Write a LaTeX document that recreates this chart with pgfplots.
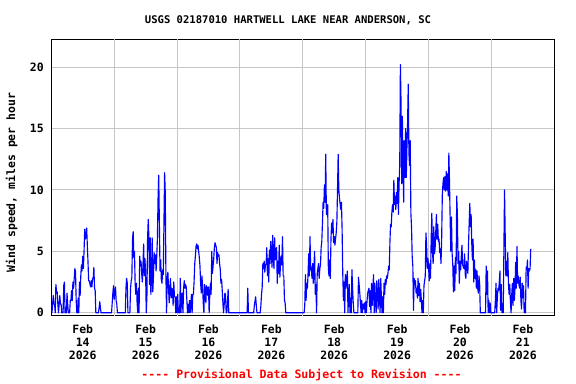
\documentclass[border=0pt]{standalone}
\usepackage{pgfplots}
\pgfplotsset{compat=1.18}
\usepackage{fontspec}
\setmainfont{DejaVu Sans Mono}
\pgfplotstableread{
x y
0 0.7
1 0
2 0.7
3 1.4
4 0.7
5 0.7
6 0
7 2.3
8 1.7
9 1.7
10 0.7
11 0
12 0.7
13 1.4
14 0.7
15 0.7
16 0
18 0
19 2.2
20 2.5
21 0
23 0
24 1.6
25 0.7
26 0
28 0
29 1.0
30 1.0
31 1.8
32 1.0
33 2.5
34 2.0
35 2.8
36 3.6
37 3.3
38 1.0
39 0
40 0
41 1.2
42 0
43 2.5
44 1.4
45 3.0
46 3.9
47 3.4
48 4.6
49 3.6
50 5.0
51 6.8
52 6.0
53 6.3
54 6.9
55 5.5
56 4.2
57 2.6
58 2.6
60 2.1
61 2.6
62 2.1
63 2.8
64 2.8
65 3.7
66 2.0
67 1.8
68 0
72 0
73 0.4
74 0.9
75 0.4
76 0
92 0
93 0.8
94 1.6
95 2.2
96 1.1
97 1.8
98 2.1
99 1.0
100 0.7
101 0
113 0
114 2.0
115 2.8
116 2.4
117 0
120 0
121 2.0
122 2.6
123 2.9
124 6.0
125 6.6
126 4.5
127 5.0
128 2.4
129 1.5
130 2.4
131 0.8
132 0
133 2.0
134 0
135 4.6
136 3.8
137 4.2
138 3.2
139 2.5
140 3.9
141 5.6
142 3.0
143 4.4
144 3.2
145 0
146 1.4
147 6.0
148 7.6
149 6.2
150 2.3
151 6.1
152 1.5
153 2.9
154 6.1
155 1.7
156 3.0
157 4.9
158 4.0
159 4.7
160 3.4
161 4.6
162 6.0
163 9.3
164 11.2
165 7.3
166 3.4
167 4.3
168 2.7
169 2.4
170 3.5
171 3.1
172 7.3
173 11.4
174 9.8
175 3.0
176 0
177 2.9
178 3.3
180 0.8
181 2.0
182 2.8
183 1.2
184 2.0
185 1.9
186 0.6
187 2.5
188 1.3
189 1.3
190 0
191 1.3
192 0
193 1.5
194 0
196 0
197 2.8
198 0
199 1.5
200 1.6
201 0
202 2.0
203 2.6
204 2.0
205 2.3
206 2.1
207 1.0
208 0
209 0.7
210 0
211 1.0
212 0
213 0.7
214 1.5
215 0
216 1.5
217 1.5
218 2.5
219 4.0
220 4.6
221 5.4
222 5.6
223 5.2
224 5.5
225 5.0
226 4.5
227 3.8
228 2.4
229 1.6
230 3.0
231 2.1
232 0.8
233 0
234 2.3
235 1.9
236 0.8
237 2.2
238 2.0
239 1.4
240 2.1
241 0
242 1.5
243 2.4
244 1.5
245 5.0
246 3.2
247 3.8
248 4.4
249 5.3
250 5.7
252 5.3
253 4.0
254 4.9
255 4.6
256 4.7
257 4.0
258 3.5
259 2.4
260 2.7
261 1.8
262 0.8
263 0
264 0.7
265 1.6
266 1.5
267 0
268 0
269 0.8
270 1.9
271 0
299 0
300 2.0
301 0
309 0
310 0.6
312 1.3
313 0.6
314 0
319 0
320 0.6
321 1.5
322 2.1
323 4.0
324 3.6
325 4.2
326 3.3
327 3.9
328 4.0
329 5.3
330 3.0
331 4.4
332 2.5
333 5.1
334 4.0
335 5.8
336 4.8
337 3.7
338 6.3
339 4.4
340 3.6
341 6.1
342 4.3
343 4.5
344 5.3
345 2.4
346 4.2
347 3.2
348 5.5
349 2.9
350 4.0
351 4.6
352 3.9
353 6.2
354 3.0
355 3.0
356 1.0
357 0.8
358 0
386 0
387 0.6
388 3.1
389 1.0
390 2.4
391 2.0
392 3.1
393 4.8
394 3.0
395 6.2
396 3.5
397 3.7
398 2.8
399 4.0
400 2.4
401 3.8
402 5.0
403 1.5
404 2.3
405 0
406 3.2
408 4.0
409 2.8
410 3.6
411 3.9
412 5.3
413 5.8
414 7.3
415 9.0
416 8.5
417 10.4
418 9.0
419 12.9
420 8.0
421 8.0
422 8.8
423 3.6
424 3.0
425 4.3
426 2.8
427 6.0
428 7.3
429 6.5
430 7.6
431 5.7
432 6.2
433 5.5
434 6.0
435 6.5
436 7.4
437 10.0
438 12.9
439 10.0
440 9.3
442 8.4
443 9.0
444 6.8
445 3.2
446 1.0
447 2.5
448 0
449 3.1
450 2.0
451 2.7
452 3.4
453 0
454 1.6
455 2.3
456 0
457 1.2
458 0
459 3.5
460 2.0
461 0.8
462 0
468 0
469 2.9
470 2.3
471 1.6
472 0.8
473 0
474 1.0
475 0
476 0.7
477 0.3
478 0.8
479 0
480 0.9
481 0
482 0.9
483 1.6
485 2.0
486 0.5
487 1.8
488 0
489 2.4
490 0.6
491 2.0
492 3.1
493 0
494 2.4
495 0.9
496 0
497 2.6
498 1.6
499 0.3
500 2.7
501 1.5
502 0
503 2.8
504 1.2
505 0
506 1.3
507 0
508 2.4
509 1.5
510 2.7
511 2.3
512 3.0
513 2.8
514 3.2
515 3.8
516 3.5
517 5.7
518 7.2
519 7.0
520 8.2
521 8.8
522 8.2
523 10.8
524 8.8
525 9.5
526 8.4
527 9.8
528 8.9
529 11.0
530 8.0
531 10.5
532 12.0
533 20.2
534 17.0
535 10.5
536 16.0
537 12.0
538 9.0
539 14.0
540 11.0
541 15.0
542 11.0
543 13.5
544 15.5
545 18.6
546 13.0
547 12.0
548 14.0
549 8.1
550 7.0
551 4.6
552 3.8
553 0.2
554 2.8
555 2.3
556 2.6
557 1.6
558 2.0
559 1.2
560 2.8
561 1.4
562 2.4
563 0.9
564 1.9
565 1.0
566 0
567 1.0
568 0
569 2.2
571 3.0
572 6.5
573 5.5
574 3.6
575 4.4
576 3.8
577 2.6
578 4.0
579 2.8
580 6.0
581 8.1
582 5.0
583 4.0
584 7.0
585 4.8
586 5.2
587 6.6
588 8.0
589 6.0
590 7.2
591 5.8
592 6.0
593 4.9
594 5.2
595 4.0
596 6.0
597 9.6
598 10.5
599 11.0
600 10.0
601 11.1
602 9.9
603 11.5
604 10.0
605 11.3
606 9.5
607 13.0
608 10.6
609 7.5
610 5.0
611 7.8
612 4.8
613 3.9
614 1.7
615 3.8
616 1.8
617 4.5
618 3.2
619 9.5
620 8.0
621 4.0
622 5.0
623 2.4
624 4.2
625 3.5
626 4.6
627 5.5
628 3.9
630 3.6
631 4.8
632 3.1
633 2.8
634 4.2
635 3.7
636 3.2
637 5.5
638 7.3
639 8.9
640 7.0
641 8.0
642 5.6
643 4.3
644 6.0
645 2.5
646 4.3
647 2.8
648 3.5
649 2.0
650 3.4
651 2.0
652 1.6
653 3.0
654 2.4
655 0
663 0
664 3.8
665 1.5
666 3.4
667 0
668 1.0
669 0
670 0.8
671 0
677 0
678 1.0
679 2.4
680 0
681 1.2
682 2.0
683 1.8
684 2.5
685 3.4
686 0.2
687 2.3
688 0
689 0.4
690 0
692 10.0
693 6.4
694 3.0
695 4.2
696 3.0
697 4.9
698 2.3
699 1.5
700 2.3
701 0.9
702 0
703 1.5
704 2.4
705 0.6
706 2.8
707 1.0
708 2.0
709 4.1
710 2.0
711 5.4
712 2.4
713 3.0
714 2.3
715 2.0
716 2.9
717 1.0
718 0.3
719 2.4
720 1.2
721 2.2
722 0
723 0.8
724 0
725 3.7
726 3.5
727 4.3
728 2.0
729 3.6
730 3.4
731 3.6
732 5.2
}\wind
\begin{document}
\begin{tikzpicture}
\path[use as bounding box] (0,0) rectangle (576bp,384bp);
\begin{axis}[
  at={(51.3bp,68.3bp)}, anchor=south west,
  scale only axis, width=503bp, height=276.4bp,
  xmin=0, xmax=768, ymin=-0.24, ymax=22.26,
  axis line style={line width=1.5bp, black},
  major tick length=0,
  xtick={48,144,240,336,432,528,624,720},
  xticklabels={Feb\\14\\2026, Feb\\15\\2026, Feb\\16\\2026, Feb\\17\\2026, Feb\\18\\2026, Feb\\19\\2026, Feb\\20\\2026, Feb\\21\\2026},
  xticklabel style={align=center, font=\bfseries\fontsize{11.5}{12.7}\selectfont, yshift=-6bp},
  extra x ticks={96,192,288,384,480,576,672},
  extra x tick labels={},
  extra x tick style={grid=major, major tick length=0},
  ytick={0,5,10,15,20},
  ymajorgrids=true,
  major grid style={line width=1bp, color=gray!45},
  /pgf/number format/assume math mode=true,
  yticklabel style={font=\bfseries\fontsize{11.5}{12}\selectfont, xshift=-4bp},
  ylabel={Wind speed, miles per hour},
  every axis y label/.style={at={(axis description cs:-0.079,0.482)}, rotate=90, anchor=center, font=\bfseries\fontsize{11.5}{12}\selectfont},
]
\addplot[color={rgb,255:red,0;green,0;blue,255}, line width=1.15bp, line join=round, no marks] table[x=x, y=y] {\wind};
\end{axis}
\node[anchor=base, font=\bfseries\fontsize{10.6}{12}\selectfont] at (288bp,360.7bp) {USGS 02187010 HARTWELL LAKE NEAR ANDERSON, SC};
\node[anchor=base, text=red, font=\bfseries\fontsize{11.6}{12}\selectfont] at (301.5bp,5.7bp) {-{}-{}-{}- Provisional Data Subject to Revision -{}-{}-{}-};
\end{tikzpicture}
\end{document}
